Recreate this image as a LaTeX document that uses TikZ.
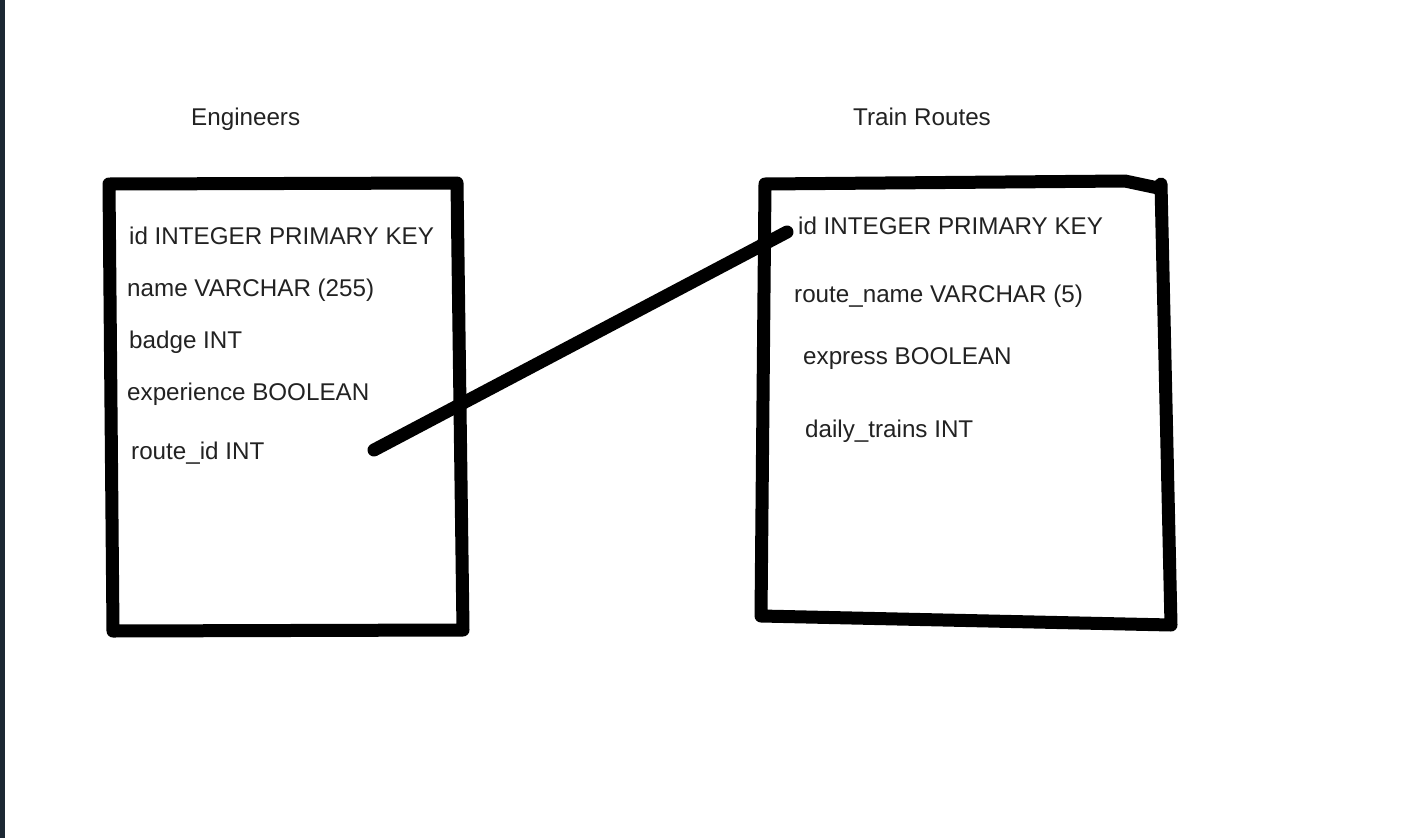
\documentclass[tikz,border=0pt]{standalone}
\usepackage{fontspec}
\setmainfont{Liberation Sans}
\definecolor{sidebar}{HTML}{1C2833}
\definecolor{txt}{HTML}{222222}
\begin{document}
\begin{tikzpicture}[x=1pt,y=-1pt,
  lbl/.style={anchor=base west,inner sep=0pt,text=txt,font=\fontsize{24.2}{27}\selectfont},
  pen/.style={line width=13pt,line cap=round,line join=round,black}]
\useasboundingbox (0,0) rectangle (1414,838);
\fill[white] (0,0) rectangle (1414,838);
\fill[sidebar] (0,0) rectangle (5,838);
% titles
\node[lbl] (t1) at (191,125) {Engineers};
\node[lbl] (t2) at (853,125) {Train Routes};
% left table
\draw[pen] (109,184) -- (457,183) -- (463,630) -- (113,631) -- cycle;
\node[lbl] (e1) at (129,244) {id INTEGER PRIMARY KEY};
\node[lbl] (e2) at (127,296) {name VARCHAR (255)};
\node[lbl] (e3) at (129,348) {badge INT};
\node[lbl] (e4) at (127,400) {experience BOOLEAN};
\node[lbl] (e5) at (131,459) {route\_id INT};
% right table
\draw[pen] (765,184) -- (1125,181) -- (1158,188) -- (1161,184) -- (1171,625) -- (761,616) -- cycle;
\node[lbl] (r1) at (798,234) {id INTEGER PRIMARY KEY};
\node[lbl] (r2) at (794,302) {route\_name VARCHAR (5)};
\node[lbl] (r3) at (803,364) {express BOOLEAN};
\node[lbl] (r4) at (805,437) {daily\_trains INT};
% connector
\coordinate (fk) at (374,450);
\coordinate (pk) at (787,232);
\draw[pen] (fk) -- (pk);
\end{tikzpicture}
\end{document}
